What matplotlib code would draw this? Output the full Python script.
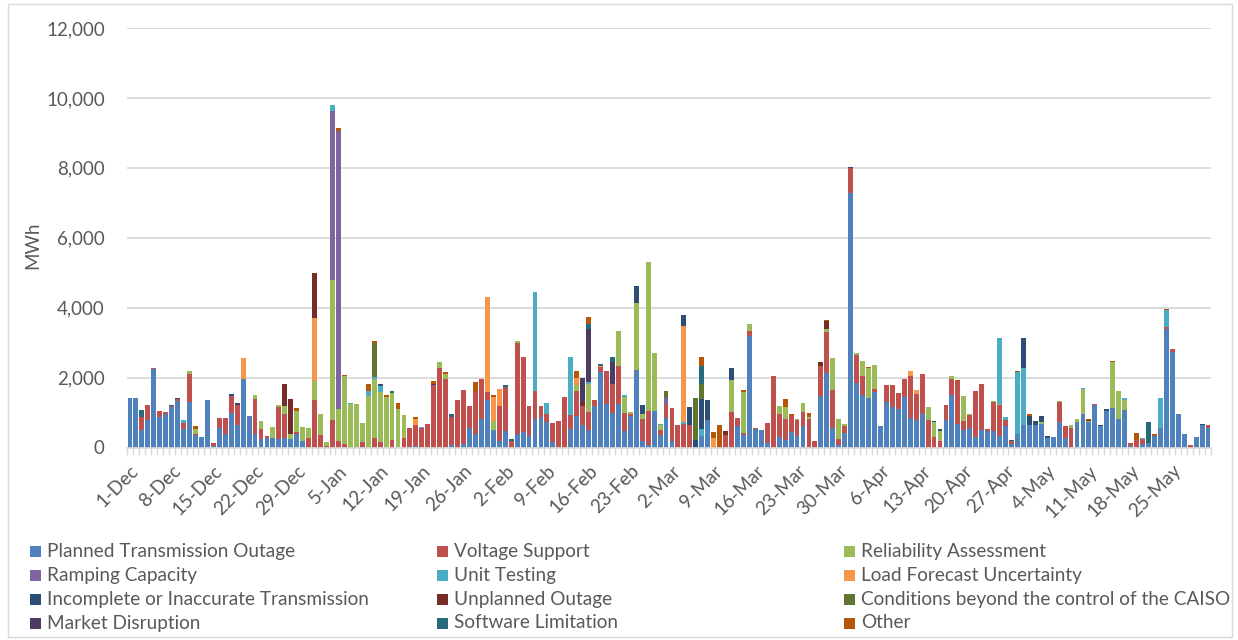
import numpy as np
import pandas as pd
import matplotlib
matplotlib.use("Agg")
import matplotlib.pyplot as plt
import matplotlib.transforms as mtrans
from matplotlib.patches import Rectangle

plt.rcParams["font.family"] = ["Lato", "DejaVu Sans"]

# daily MWh, 1-Dec through 31-May (182 days)
days = pd.date_range("2018-12-01", "2019-05-31", freq="D")

planned_outage = [
    1430, 1410, 495, 780, 2250, 876, 970,
    1160, 1330, 533, 1314, 352, 305, 1352,
    57, 562, 381, 1000, 657, 1961, 895,
    400, 248, 286, 267, 248, 276, 257,
    400, 180, 0, 0, 0, 0, 0,
    0, 0, 0, 0, 0, 0, 0,
    0, 0, 0, 0, 0, 0, 38,
    0, 0, 0, 0, 0, 67, 0,
    95, 552, 381, 828, 1352, 505, 200,
    467, 0, 381, 447, 333, 828, 876,
    723, 162, 0, 0, 523, 904, 647,
    505, 1190, 2151, 1247, 980, 1247, 467,
    904, 2228, 181, 76, 1047, 352, 847,
    181, 0, 0, 0, 0, 324, 800,
    0, 0, 0, 0, 609, 371, 3200,
    523, 505, 124, 0, 295, 228, 447,
    324, 628, 0, 0, 1476, 2123, 562,
    76, 419, 7273, 1857, 1495, 1409, 1580,
    619, 1304, 1152, 1095, 1447, 847, 800,
    971, 0, 0, 0, 800, 1495, 676,
    505, 562, 295, 505, 467, 467, 333,
    619, 95, 400, 647, 647, 647, 666,
    286, 295, 742, 267, 0, 723, 971,
    723, 1219, 619, 1057, 1123, 828, 1066,
    38, 0, 95, 143, 343, 552, 3400,
    2742, 971, 400, 0, 295, 647, 562,
]

voltage_support = [
    0, 0, 380, 440, 20, 170, 40,
    40, 50, 171, 800, 48, 0, 0,
    67, 295, 476, 476, 571, 0, 0,
    980, 276, 38, 0, 914, 685, 0,
    38, 0, 280, 1352, 352, 57, 800,
    181, 95, 0, 0, 162, 0, 276,
    162, 0, 210, 0, 276, 552, 600,
    552, 685, 1780, 2275, 1970, 809, 1370,
    1561, 647, 1238, 1133, 248, 0, 990,
    1266, 200, 2618, 2142, 847, 780, 305,
    248, 543, 752, 1437, 400, 723, 552,
    505, 162, 143, 933, 847, 1076, 514,
    48, 0, 647, 971, 0, 143, 409,
    952, 657, 685, 657, 0, 0, 0,
    0, 0, 352, 1009, 228, 48, 124,
    48, 0, 571, 2047, 676, 600, 457,
    466, 400, 819, 176, 847, 1180, 1076,
    181, 209, 714, 790, 543, 0, 86,
    0, 495, 647, 476, 524, 1200, 733,
    1123, 800, 295, 181, 428, 476, 1228,
    248, 381, 1333, 1314, 76, 828, 876,
    181, 95, 0, 0, 0, 0, 0,
    0, 0, 571, 362, 571, 0, 0,
    0, 38, 0, 0, 0, 0, 0,
    105, 219, 152, 0, 0, 0, 48,
    86, 0, 0, 76, 0, 0, 86,
]

reliability = [
    0, 0, 0, 0, 0, 0, 0,
    0, 0, 0, 67, 133, 0, 0,
    0, 0, 0, 0, 0, 0, 0,
    114, 228, 0, 314, 67, 219, 143,
    609, 420, 270, 543, 600, 114, 4000,
    914, 1942, 1238, 1257, 543, 1476, 1676,
    1428, 1447, 1352, 1095, 647, 0, 0,
    0, 0, 0, 171, 143, 0, 0,
    0, 0, 0, 0, 0, 248, 0,
    0, 0, 57, 0, 0, 0, 0,
    0, 0, 0, 0, 0, 171, 0,
    819, 19, 0, 0, 0, 1000, 467,
    57, 1914, 124, 4255, 1647, 143, 0,
    0, 0, 0, 0, 0, 0, 0,
    0, 0, 0, 933, 0, 1171, 200,
    0, 0, 0, 0, 209, 324, 0,
    38, 240, 57, 0, 0, 95, 914,
    571, 38, 0, 57, 438, 857, 704,
    0, 0, 0, 0, 0, 0, 0,
    0, 371, 428, 305, 0, 76, 0,
    724, 29, 0, 0, 0, 29, 29,
    0, 0, 0, 0, 0, 0, 76,
    0, 0, 29, 0, 76, 95, 695,
    38, 0, 0, 0, 1314, 790, 305,
    0, 0, 0, 0, 0, 0, 0,
    0, 0, 0, 0, 0, 0, 0,
]

# the smaller causes, by day number (0 = 1-Dec)
ramping = {34: 4836, 35: 7968, 90: 152}
unit_testing = {9: 76, 34: 152, 37: 48, 40: 133, 41: 67, 42: 181, 49: 38, 68: 2837,
                70: 305, 74: 1666, 77: 57, 83: 48, 89: 48, 93: 48, 96: 200, 146: 1885,
                147: 76, 149: 1752, 150: 1619, 160: 38, 167: 38, 170: 38, 173: 876, 174: 476}
load_forecast = {19: 590, 31: 1800, 48: 181, 60: 2694, 61: 695, 62: 486, 75: 190,
                 79: 29, 93: 2742, 98: 276, 131: 152, 132: 105}
incomplete_tx = {8: 30, 17: 48, 42: 57, 51: 48, 85: 485, 86: 257, 93: 305, 94: 495,
                 95: 228, 96: 857, 97: 571, 101: 333, 121: 29, 135: 29, 136: 38,
                 150: 857, 151: 248, 152: 124, 153: 162, 154: 38, 163: 38, 164: 38, 180: 29}
unplanned = {26: 638, 27: 1000, 31: 1290, 76: 114, 100: 124, 116: 114, 117: 219, 161: 29}
conditions = {41: 980, 90: 200, 95: 1190, 96: 447}
market = {18: 38, 76: 666, 77: 1514, 81: 619}
software = {2: 190, 7: 30, 44: 48, 54: 95, 63: 48, 64: 38, 77: 133, 79: 76, 81: 143,
            96: 514, 148: 38, 171: 600}
other = {11: 76, 28: 76, 35: 76, 36: 48, 40: 219, 41: 48, 43: 48, 45: 181, 48: 48,
         51: 67, 53: 38, 58: 248, 61: 48, 75: 190, 77: 190, 96: 257, 98: 171, 99: 638,
         103: 48, 110: 248, 111: 48, 114: 100, 117: 38, 124: 29, 139: 29, 149: 29,
         151: 76, 161: 38, 165: 38, 169: 190, 172: 38, 174: 29}

labels = ["Planned Transmission Outage", "Voltage Support", "Reliability Assessment",
          "Ramping Capacity", "Unit Testing", "Load Forecast Uncertainty",
          "Incomplete or Inaccurate Transmission", "Unplanned Outage",
          "Conditions beyond the control of the CAISO", "Market Disruption",
          "Software Limitation", "Other"]
colors = ["#4F81BD", "#C0504D", "#9BBB59", "#8064A2", "#4BACC6", "#F79646",
          "#2C4D75", "#772C2A", "#5F7530", "#4D3B62", "#276A7C", "#B65708"]


def to_series(d):
    s = np.zeros(len(days))
    for k, v in d.items():
        s[k] = v
    return s


series = [np.array(planned_outage, float), np.array(voltage_support, float),
          np.array(reliability, float)]
series += [to_series(d) for d in (ramping, unit_testing, load_forecast, incomplete_tx,
                                  unplanned, conditions, market, software, other)]

W, H = 1238, 640
fig = plt.figure(figsize=(W / 100, H / 100), dpi=100)
ax = fig.add_axes([127 / W, 192.5 / H, (1211 - 127) / W, (447.5 - 28) / H])

x = np.arange(len(days))
bottom = np.zeros(len(days))
for s, c, lab in zip(series, colors, labels):
    ax.bar(x, s, bottom=bottom, width=0.82, color=c, label=lab, linewidth=0)
    bottom += s

ax.set_xlim(-0.5, len(days) - 0.5)
ax.set_ylim(0, 12000)
ax.set_yticks(np.arange(0, 12001, 2000))
ax.yaxis.set_major_formatter(matplotlib.ticker.FuncFormatter(lambda v, p: f"{v:,.0f}"))
ax.grid(axis="y", color="#D9D9D9", linewidth=1.3)
ax.set_axisbelow(True)
for sp in ["top", "right", "left"]:
    ax.spines[sp].set_visible(False)
ax.spines["bottom"].set_color("#D9D9D9")
ax.spines["bottom"].set_linewidth(1.3)
ax.tick_params(axis="y", length=0, labelsize=13.5, labelcolor="#595959", pad=16)

# weekly date labels, small tick at every day boundary
ax.set_xticks(x[::7])
ax.set_xticklabels([f"{d.day}-{d:%b}" for d in days[::7]], rotation=45,
                   ha="right", va="center", rotation_mode="anchor")
ax.tick_params(axis="x", length=0, labelsize=13.5, labelcolor="#595959", pad=15)
shift = mtrans.ScaledTranslation(6 / 100, 0, fig.dpi_scale_trans)
for t in ax.get_xticklabels():
    t.set_transform(t.get_transform() + shift)
ax.set_xticks(np.arange(-0.5, len(days), 1), minor=True)
ax.tick_params(axis="x", which="minor", length=5, color="#D9D9D9", width=1)

fig.text(33 / W, 1 - 245 / H, "MWh", rotation=90, ha="center", va="center",
         fontsize=13.5, color="#595959")

# legend, three columns filled row by row
col_x = [30, 437, 844]
row_y = [551, 575, 599, 623]
for k, (lab, c) in enumerate(zip(labels, colors)):
    r, cidx = divmod(k, 3)
    x0, y0 = col_x[cidx], row_y[r]
    fig.add_artist(Rectangle((x0 / W, 1 - (y0 + 5.5) / H), 11 / W, 11 / H,
                             transform=fig.transFigure, color=c, linewidth=0))
    fig.text((x0 + 17) / W, 1 - y0 / H, lab, ha="left", va="center",
             fontsize=13.7, color="#595959")

fig.add_artist(Rectangle((8 / W, 3 / H), (1232 - 8) / W, (636 - 3) / H,
                         transform=fig.transFigure, fill=False,
                         edgecolor="#D9D9D9", linewidth=1))

fig.savefig("out.png", dpi=100)
